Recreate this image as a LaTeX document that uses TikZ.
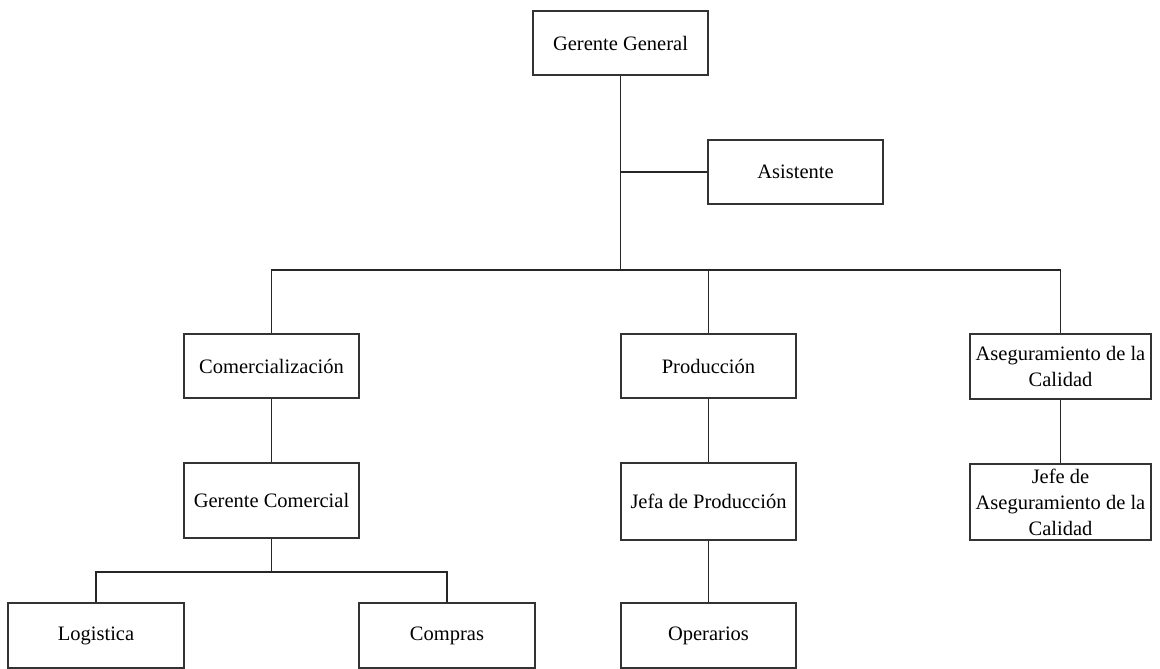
\documentclass[tikz,border=0pt]{standalone}
\usepackage{fontspec}
\setmainfont{Liberation Serif}
\begin{document}
\begin{tikzpicture}[x=1bp,y=-1bp,
  box/.style={draw=black!80, line width=1.4bp, rectangle, inner sep=0pt,
    align=center, font=\fontsize{20.5bp}{26bp}\selectfont},
  link/.style={draw=black!85, line width=1.5bp}]
\useasboundingbox (0,0) rectangle (1160,669);
% boxes
\node[box, minimum width=175bp, minimum height=64bp] (gg) at (620.5,43) {Gerente General};
\node[box, minimum width=175bp, minimum height=64bp] (asis) at (795.5,172) {Asistente};
\node[box, minimum width=175bp, minimum height=64bp] (com) at (271.5,366) {Comercialización};
\node[box, minimum width=175bp, minimum height=64bp] (prod) at (708.5,366) {Producción};
\node[box, minimum width=181bp, minimum height=65bp] (aseg) at (1060.5,366.5) {Aseguramiento de la\\Calidad};
\node[box, minimum width=175bp, minimum height=75bp] (gc) at (271.5,500.5) {Gerente Comercial};
\node[box, minimum width=175bp, minimum height=77bp] (jefa) at (708.5,501.5) {Jefa de Producción};
\node[box, minimum width=181bp, minimum height=76bp] (jaseg) at (1060.5,502) {Jefe de\\Aseguramiento de la\\Calidad};
\node[box, minimum width=176bp, minimum height=65bp] (log) at (96,635.5) {Logistica};
\node[box, minimum width=176bp, minimum height=65bp] (comp) at (447,635.5) {Compras};
\node[box, minimum width=175bp, minimum height=65bp] (oper) at (708.5,635.5) {Operarios};
% junction points
\coordinate (bus) at (620.5,270);
\coordinate (cbus) at (271.5,572);
% connectors
\draw[link] (gg.south) -- (bus);
\draw[link] (gg.south |- asis.west) -- (asis.west);
\draw[link] (com.north) |- (aseg.north |- bus) -- (aseg.north);
\draw[link] (prod.north) -- (prod.north |- bus);
\draw[link] (com.south) -- (gc.north);
\draw[link] (gc.south) -- (cbus);
\draw[link] (log.north) |- (comp.north |- cbus) -- (comp.north);
\draw[link] (prod.south) -- (jefa.north);
\draw[link] (jefa.south) -- (oper.north);
\draw[link] (aseg.south) -- (jaseg.north);
\end{tikzpicture}
\end{document}
